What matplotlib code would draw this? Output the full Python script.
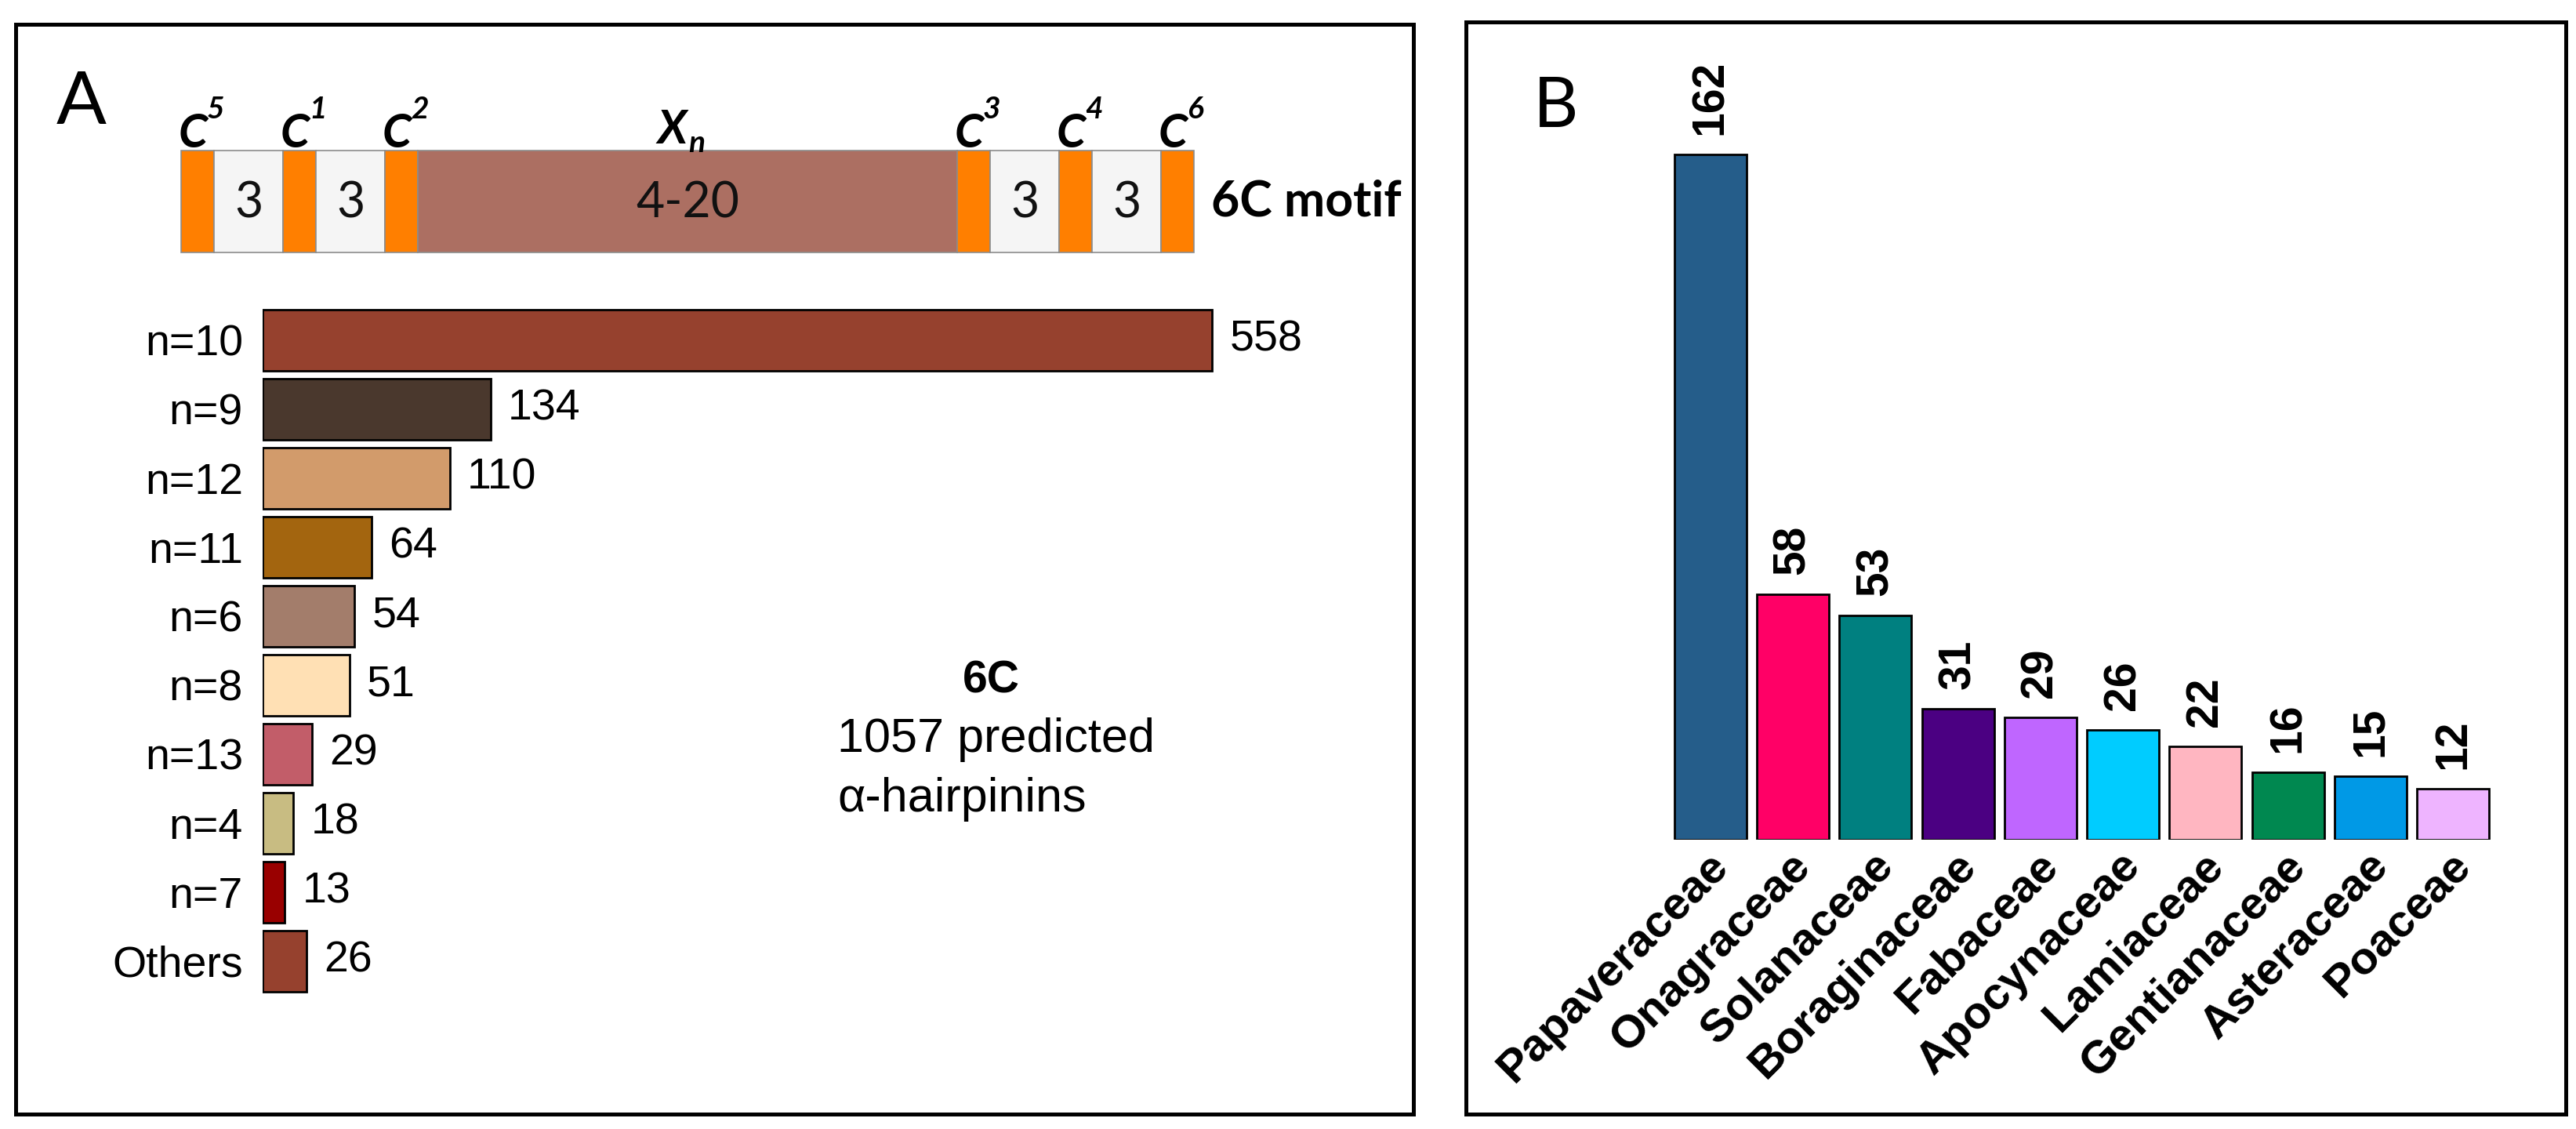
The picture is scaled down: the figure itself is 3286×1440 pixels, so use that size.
import matplotlib.pyplot as plt
from matplotlib.patches import Rectangle
from matplotlib.transforms import ScaledTranslation

# Panel A: loop length distribution of 6C alpha-hairpinins
loop_sizes = ["n=10", "n=9", "n=12", "n=11", "n=6", "n=8", "n=13", "n=4", "n=7", "Others"]
loop_counts = [558, 134, 110, 64, 54, 51, 29, 18, 13, 26]
loop_colors = ["#96412E", "#4A382D", "#D29B6B", "#A3650F", "#A37D6B",
               "#FFE0B4", "#C25D69", "#C8BC82", "#990000", "#96412E"]

# motif schematic
motif_blocks = ["C", "3", "C", "3", "C", "4-20", "C", "3", "C", "3", "C"]
cys_numbers = ["5", "1", "2", "3", "4", "6"]

# Panel B: plant families
families = ["Papaveraceae", "Onagraceae", "Solanaceae", "Boraginaceae", "Fabaceae",
            "Apocynaceae", "Lamiaceae", "Gentianaceae", "Asteraceae", "Poaceae"]
family_counts = [162, 58, 53, 31, 29, 26, 22, 16, 15, 12]
family_colors = ["#255D8A", "#FF0066", "#008080", "#4B0082", "#BF66FF",
                 "#00CCFF", "#FFB6C1", "#008850", "#0099E6", "#EEB4FF"]

W, H = 3287, 1440
DPI = 100
ARIAL = "Liberation Sans"
CALIBRI = "Lato"

fig = plt.figure(figsize=(W / DPI, H / DPI), dpi=DPI)


def px_axes(left, top, right, bottom):
    """Add axes given a pixel box (origin top-left)."""
    return fig.add_axes([left / W, 1 - bottom / H, (right - left) / W, (bottom - top) / H])


# overlay in pixel coords for frames, letters and the motif drawing
ov = fig.add_axes([0, 0, 1, 1])
ov.set_xlim(0, W)
ov.set_ylim(H, 0)
ov.axis("off")

ov.add_patch(Rectangle((20, 31), 1783, 1390, fill=False, lw=3.6, ec="black"))
ov.add_patch(Rectangle((1870, 28), 1403, 1393, fill=False, lw=3.6, ec="black"))
ov.text(72, 158, "A", fontsize=68, family=CALIBRI, ha="left", va="baseline")
ov.text(1956, 162, "B", fontsize=64, family=CALIBRI, ha="left", va="baseline")

# --- motif schematic ---
widths = {"C": 42, "3": 88, "4-20": 688}
fills = {"C": "#FF7F00", "3": "#F5F5F5", "4-20": "#AC6F62"}
x = 231
y_top, bar_h = 192, 130
cys_iter = iter(cys_numbers)
for block in motif_blocks:
    w = widths[block]
    ov.add_patch(Rectangle((x, y_top), w, bar_h, facecolor=fills[block],
                           edgecolor="#8C8C8C", lw=1.2))
    cx = x + w / 2
    if block == "C":
        ov.text(cx - 6, 188, "C", fontsize=43, family=CALIBRI, weight="bold",
                style="italic", ha="center", va="baseline")
        ov.text(cx + 12, 122, next(cys_iter), fontsize=28, family=CALIBRI,
                weight="bold", style="italic", ha="left", va="top")
    else:
        ov.text(cx, y_top + bar_h / 2 + 2, block, fontsize=45, family=CALIBRI,
                ha="center", va="center", color="#111111")
        if block == "4-20":
            ov.text(cx - 20, 183, "X", fontsize=43, family=CALIBRI, weight="bold",
                    style="italic", ha="center", va="baseline")
            ov.text(cx + 1, 194, "n", fontsize=28, family=CALIBRI, weight="bold",
                    style="italic", ha="left", va="baseline")
    x += w
ov.text(1545, 257, "6C motif", fontsize=45, family=CALIBRI, weight="bold",
        ha="left", va="center")

# --- panel A bars ---
axA = px_axes(335, 390, 1800, 1270)
pos = range(len(loop_sizes))
axA.barh(pos, loop_counts, height=0.89, color=loop_colors, edgecolor="black", lw=2)
axA.set_ylim(len(loop_sizes) - 0.5, -0.5)
axA.set_xlim(0, 675)
axA.set_yticks(list(pos))
axA.set_yticklabels(loop_sizes, fontsize=40, family=ARIAL)
axA.tick_params(axis="y", length=0, pad=18)
axA.set_xticks([])
for s in axA.spines.values():
    s.set_visible(False)
axA.patch.set_visible(False)
for i, v in enumerate(loop_counts):
    axA.annotate(str(v), (v, i), xytext=(16, 0), textcoords="offset points",
                 va="center", ha="left", fontsize=40, family=ARIAL)

ov.text(1264, 868, "6C", fontsize=41, family=ARIAL, weight="bold", ha="center", va="center")
ov.text(1068, 944, f"{sum(loop_counts)} predicted", fontsize=44, family=ARIAL,
        ha="left", va="center")
ov.text(1068, 1020, "α-hairpinins", fontsize=44, family=ARIAL, ha="left", va="center")

# --- panel B bars ---
axB = px_axes(2129.4, 60, 3181.6, 1071)
xpos = range(len(families))
axB.bar(xpos, family_counts, width=0.875, color=family_colors, edgecolor="black", lw=2)
axB.set_xlim(-0.5, len(families) - 0.5)
axB.set_ylim(0, (1071 - 60) / 5.395)
axB.set_yticks([])
axB.set_xticks(list(xpos))
axB.set_xticklabels(families, fontsize=42, family=ARIAL, weight="bold",
                    rotation=45, ha="right", va="center", rotation_mode="anchor")
axB.tick_params(axis="x", length=0, pad=18)
shift = ScaledTranslation(14 / DPI, 0, fig.dpi_scale_trans)
for lab in axB.get_xticklabels():
    lab.set_transform(lab.get_transform() + shift)
for s in axB.spines.values():
    s.set_visible(False)
axB.patch.set_visible(False)
for i, v in enumerate(family_counts):
    axB.annotate(str(v), (i, v), xytext=(0, 18), textcoords="offset points",
                 rotation=90, ha="center", va="bottom", fontsize=41,
                 family=ARIAL, weight="bold")

fig.savefig("out.png", dpi=DPI)
